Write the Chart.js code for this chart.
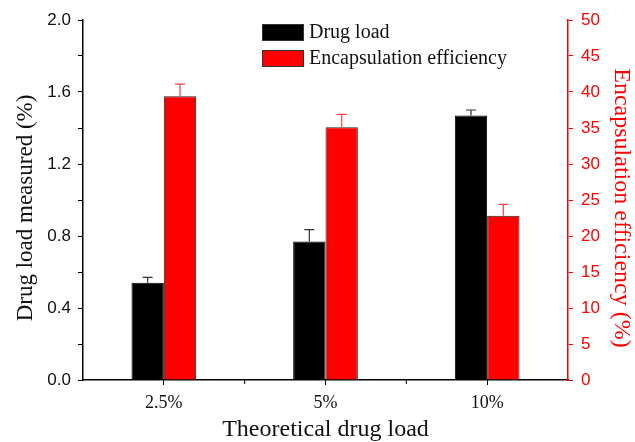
<!DOCTYPE html>
<html>
<head>
<meta charset="utf-8">
<script src="https://cdn.jsdelivr.net/npm/chart.js@4/dist/chart.umd.min.js"></script>
<style>
  html, body { margin: 0; padding: 0; background: #fff; }
  #wrap { width: 635px; height: 442px; }
</style>
</head>
<body>
<div id="wrap"><canvas id="chart" width="635" height="442"></canvas></div>
<script>
// Data
const categories = ['2.5%', '5%', '10%'];
const drugLoad = [0.54, 0.77, 1.47];
const drugLoadErr = [0.03, 0.065, 0.03];
const encEff = [39.4, 35.1, 22.8];
const encEffErr = [1.7, 1.8, 1.6];

const serif = '"Liberation Serif", "Times New Roman", serif';
const sans = '"Liberation Sans", Arial, sans-serif';
const RED = '#ff0000';

// Upper error bars drawn through the bar elements and their y scales
const errorBars = {
  id: 'errorBars',
  afterDatasetsDraw(chart) {
    const ctx = chart.ctx;
    chart.data.datasets.forEach((ds, di) => {
      const meta = chart.getDatasetMeta(di);
      const scale = chart.scales[ds.yAxisID];
      ctx.save();
      ctx.strokeStyle = ds.errColor;
      ctx.lineWidth = 1.2;
      meta.data.forEach((bar, i) => {
        const yTop = scale.getPixelForValue(ds.data[i] + ds.errors[i]);
        ctx.beginPath();
        ctx.moveTo(bar.x, bar.y);
        ctx.lineTo(bar.x, yTop);
        ctx.moveTo(bar.x - 5, yTop);
        ctx.lineTo(bar.x + 5, yTop);
        ctx.stroke();
      });
      ctx.restore();
    });
  }
};

// Minor ticks between categories on the x axis
const minorTicks = {
  id: 'minorTicks',
  afterDraw(chart) {
    const ctx = chart.ctx;
    const x = chart.scales.x;
    ctx.save();
    ctx.strokeStyle = '#000';
    ctx.lineWidth = 1;
    for (let i = 0; i < categories.length - 1; i++) {
      const px = (x.getPixelForValue(i) + x.getPixelForValue(i + 1)) / 2;
      ctx.beginPath();
      ctx.moveTo(px, x.top);
      ctx.lineTo(px, x.top + 4);
      ctx.stroke();
    }
    ctx.restore();
  }
};

// Vertical axis titles, sitting a little below the middle like the original
const sideTitles = {
  id: 'sideTitles',
  afterDraw(chart) {
    const ctx = chart.ctx;
    const midY = (chart.chartArea.top + chart.chartArea.bottom) / 2 + 8;
    ctx.save();
    ctx.textAlign = 'center';
    ctx.textBaseline = 'middle';

    ctx.save();
    ctx.translate(26, midY);
    ctx.rotate(-Math.PI / 2);
    ctx.font = '23px ' + serif;
    ctx.fillStyle = '#111';
    ctx.fillText('Drug load measured (%)', 0, 0);
    ctx.restore();

    ctx.save();
    ctx.translate(621, midY);
    ctx.rotate(Math.PI / 2);
    ctx.font = '24px ' + serif;
    ctx.fillStyle = RED;
    ctx.fillText('Encapsulation efficiency (%)', 0, 0);
    ctx.restore();

    ctx.restore();
  }
};

// Legend inside the plot, top centre
const boxLegend = {
  id: 'boxLegend',
  afterDraw(chart) {
    const ctx = chart.ctx;
    ctx.save();
    ctx.font = '20px ' + serif;
    ctx.textBaseline = 'middle';
    chart.data.datasets.forEach((ds, i) => {
      const y = 24 + i * 26;
      ctx.fillStyle = ds.backgroundColor;
      ctx.fillRect(262, y, 42, 17);
      ctx.strokeStyle = '#333';
      ctx.lineWidth = 1;
      ctx.strokeRect(262.5, y + 0.5, 41, 16);
      ctx.fillStyle = '#111';
      ctx.fillText(ds.label, 309, y + 9);
    });
    ctx.restore();
  }
};

new Chart(document.getElementById('chart'), {
  type: 'bar',
  data: {
    labels: categories,
    datasets: [
      {
        label: 'Drug load',
        data: drugLoad,
        errors: drugLoadErr,
        errColor: '#333',
        yAxisID: 'y',
        backgroundColor: '#000',
        borderColor: '#000',
        borderWidth: 1
      },
      {
        label: 'Encapsulation efficiency',
        data: encEff,
        errors: encEffErr,
        errColor: '#ff4040',
        yAxisID: 'y1',
        backgroundColor: RED,
        borderColor: '#222',
        borderWidth: 1
      }
    ]
  },
  options: {
    responsive: false,
    animation: false,
    categoryPercentage: 0.4,
    barPercentage: 1.0,
    layout: { padding: { top: 20, left: 0, right: 0, bottom: 0 } },
    plugins: {
      legend: { display: false },
      tooltip: { enabled: false }
    },
    scales: {
      x: {
        offset: true,
        grid: { drawOnChartArea: false, drawTicks: true, tickLength: 5, color: '#000', offset: false },
        border: { color: '#000', width: 1.5 },
        ticks: { font: { family: serif, size: 18 }, color: '#111', padding: 7 },
        title: {
          display: true,
          text: 'Theoretical drug load',
          font: { family: serif, size: 24, lineHeight: 1 },
          color: '#111',
          padding: { top: 3, bottom: 0 }
        },
        afterFit(scale) { scale.height = 62; }
      },
      y: {
        position: 'left',
        min: 0,
        max: 2,
        grid: { drawOnChartArea: false, drawTicks: true, tickLength: 5, color: '#000' },
        border: { color: '#000', width: 1.5 },
        ticks: {
          stepSize: 0.2,
          font: { family: sans, size: 17 },
          color: '#111',
          padding: 7,
          callback: v => (Math.round(v * 10) % 4 === 0 ? v.toFixed(1) : '')
        },
        afterFit(scale) { scale.width = 83; }
      },
      y1: {
        position: 'right',
        min: 0,
        max: 50,
        grid: { drawOnChartArea: false, drawTicks: true, tickLength: 5, color: RED },
        border: { color: RED, width: 1.5 },
        ticks: {
          stepSize: 2.5,
          font: { family: sans, size: 17 },
          color: RED,
          padding: 8,
          callback: v => (v % 5 === 0 ? String(v) : '')
        },
        afterFit(scale) { scale.width = 67; }
      }
    }
  },
  plugins: [errorBars, minorTicks, sideTitles, boxLegend]
});
</script>
</body>
</html>
